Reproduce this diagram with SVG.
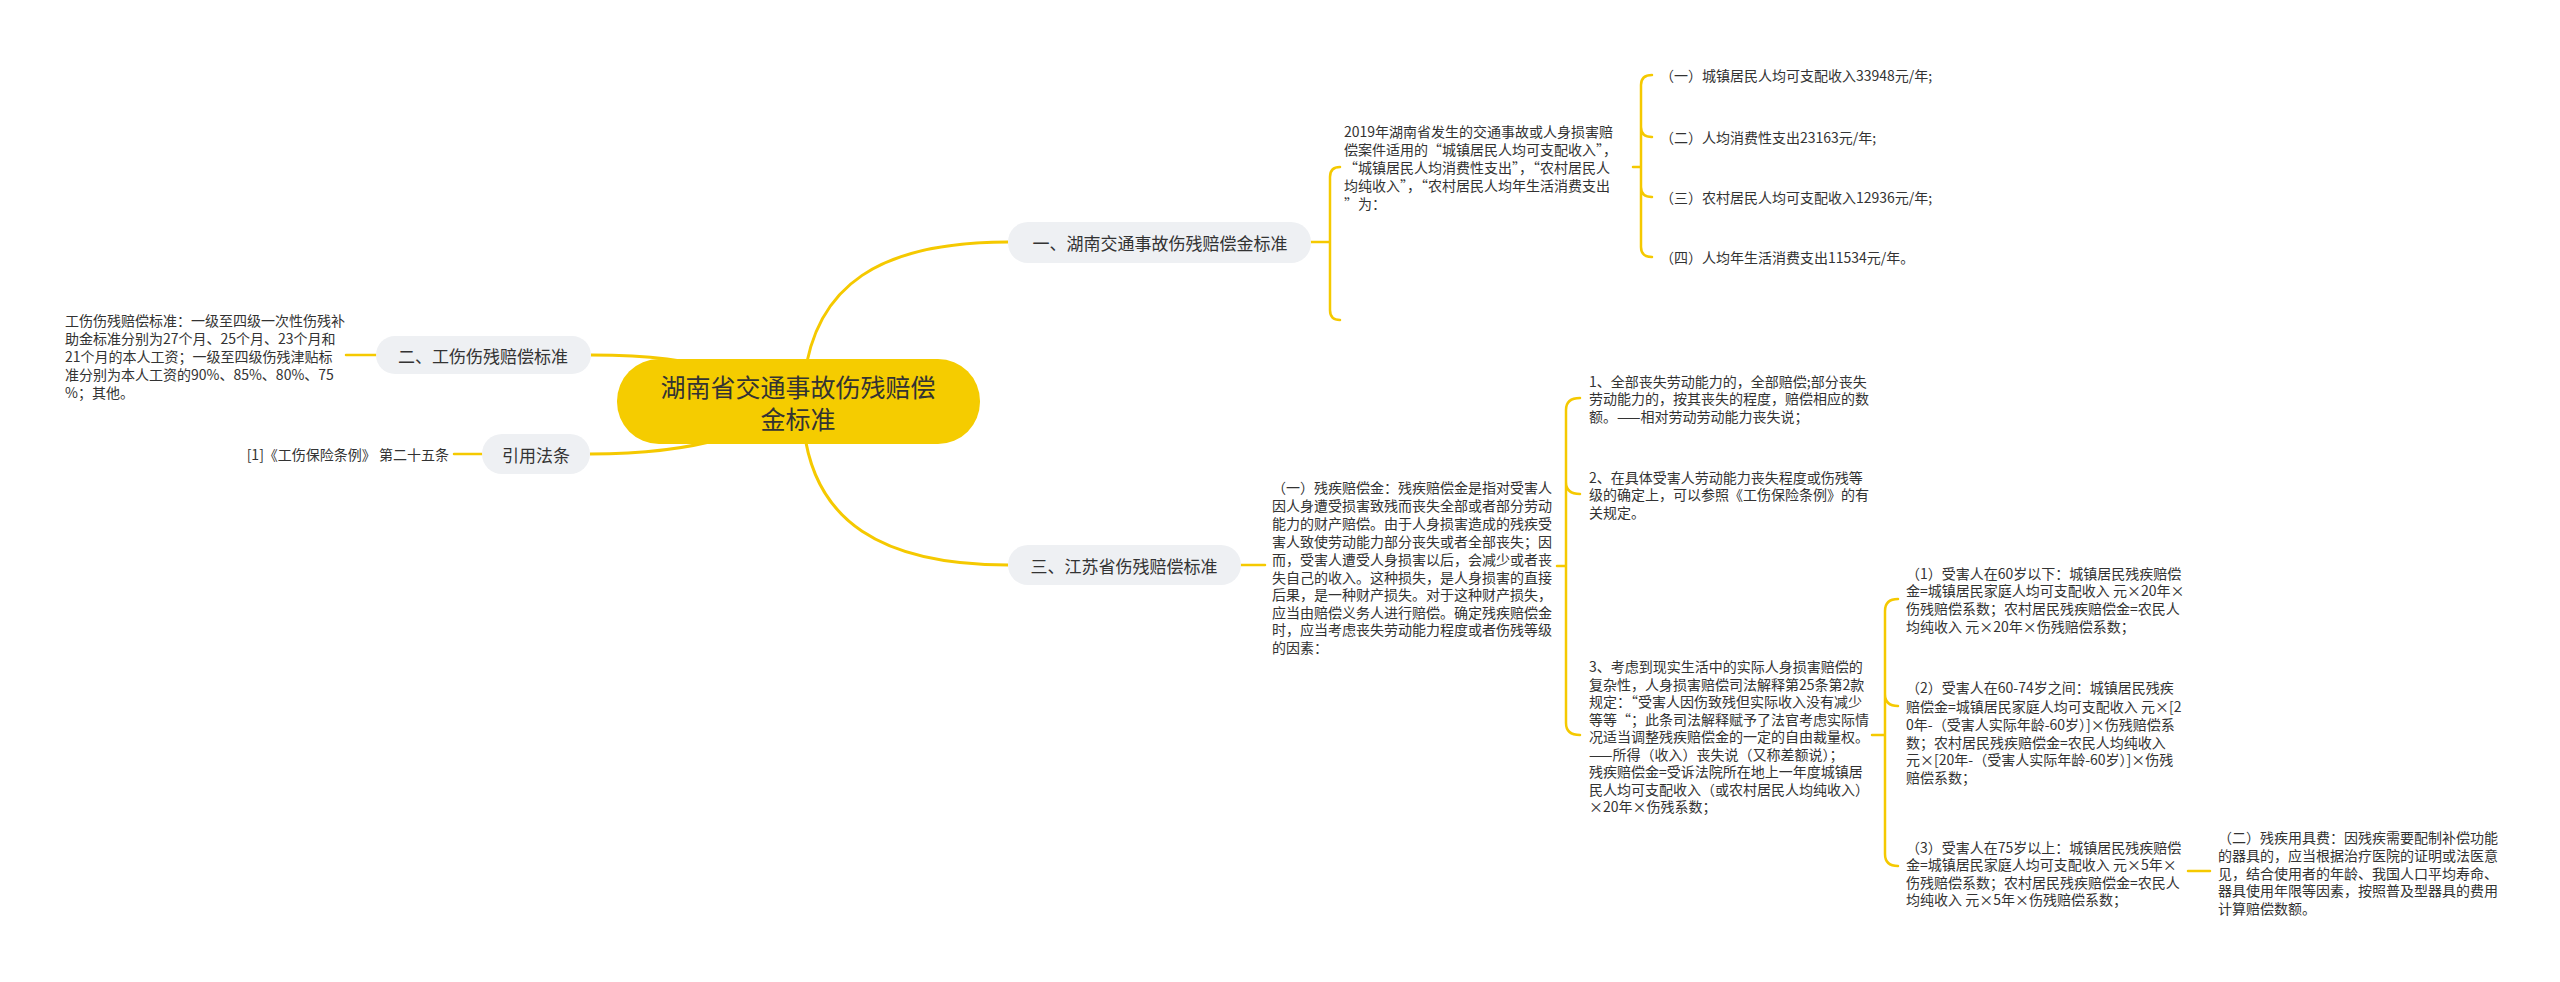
<svg xmlns="http://www.w3.org/2000/svg" width="2560" height="982" viewBox="0 0 2560 982">
<style>
text{font-family:"Noto Sans CJK SC","Noto Sans",sans-serif;fill:#333;dominant-baseline:central}
.t{font-size:14px}
.p{font-size:17px}
.c{font-size:25px}
.ln{fill:none;stroke:#F5C900;stroke-width:2.5;stroke-linecap:round}
.main{fill:none;stroke:#F5C900;stroke-width:3}
.pill{fill:#EEF0F3}
</style>
<rect width="2560" height="982" fill="#fff"/>
<g id="connectors">
<path class="main" d="M804 380 C815 285 880 242 1008 242"/>
<path class="main" d="M804 430 C815 520 880 565 1008 565"/>
<path class="main" d="M591 355 C650 355 690 360 725 372"/>
<path class="main" d="M590 454 C650 454 690 448 725 438"/>
<path class="ln" d="M1311 242 H1330 M1340 167 Q1330 167 1330 177 V310 Q1330 320 1340 320"/>
<path class="ln" d="M1633 167 H1641 M1652 75 Q1641 75 1641 85 V247 Q1641 257 1652 257 M1641 127 Q1641 137 1652 137 M1641 187 Q1641 197 1652 197"/>
<path class="ln" d="M346 355 H376"/>
<path class="ln" d="M454 454 H482"/>
<path class="ln" d="M1241 565 H1265"/>
<path class="ln" d="M1557 566 H1566 M1580 398 Q1566 398 1566 410 V723 Q1566 735 1580 735 M1566 482 Q1566 494 1580 494"/>
<path class="ln" d="M1872 735 H1885 M1898 599 Q1885 599 1885 611 V854 Q1885 866 1898 866 M1885 694 Q1885 706 1898 706"/>
<path class="ln" d="M2188 871 H2210"/>
</g>
<g id="center"><rect x="617" y="359" width="363" height="85" rx="42" fill="#F5CC00"/>
<text class="c" x="798" y="386" text-anchor="middle">湖南省交通事故伤残赔偿</text>
<text class="c" x="798" y="418" text-anchor="middle">金标准</text></g>
<g id="b1"><rect class="pill" x="1008" y="222" width="303" height="41" rx="20"/><text class="p" x="1160" y="242" text-anchor="middle">一、湖南交通事故伤残赔偿金标准</text></g>
<g id="b2"><rect class="pill" x="376" y="336" width="215" height="38" rx="19"/><text class="p" x="483" y="355" text-anchor="middle">二、工伤伤残赔偿标准</text></g>
<g id="b3"><rect class="pill" x="482" y="434" width="108" height="40" rx="20"/><text class="p" x="536" y="454" text-anchor="middle">引用法条</text></g>
<g id="b4"><rect class="pill" x="1008" y="545" width="233" height="40" rx="20"/><text class="p" x="1124" y="565" text-anchor="middle">三、江苏省伤残赔偿标准</text></g>
<g id="n1" class="t"><text x="1344" y="131">2019年湖南省发生的交通事故或人身损害赔</text><text x="1344" y="149">偿案件适用的“城镇居民人均可支配收入”，</text><text x="1344" y="167">“城镇居民人均消费性支出”，“农村居民人</text><text x="1344" y="185">均纯收入”，“农村居民人均年生活消费支出</text><text x="1344" y="203">”为：</text></g>
<g id="n1a" class="t"><text x="1660" y="75">（一）城镇居民人均可支配收入33948元/年;</text></g>
<g id="n1b" class="t"><text x="1660" y="137">（二）人均消费性支出23163元/年;</text></g>
<g id="n1c" class="t"><text x="1660" y="197">（三）农村居民人均可支配收入12936元/年;</text></g>
<g id="n1d" class="t"><text x="1660" y="257">（四）人均年生活消费支出11534元/年。</text></g>
<g id="n2" class="t"><text x="65" y="320">工伤伤残赔偿标准：一级至四级一次性伤残补</text><text x="65" y="338">助金标准分别为27个月、25个月、23个月和</text><text x="65" y="356">21个月的本人工资；一级至四级伤残津贴标</text><text x="65" y="374">准分别为本人工资的90%、85%、80%、75</text><text x="65" y="392">%；其他。</text></g>
<g id="n3" class="t"><text x="449" y="454" text-anchor="end">[1]《工伤保险条例》 第二十五条</text></g>
<g id="n4" class="t"><text x="1272" y="487">（一）残疾赔偿金：残疾赔偿金是指对受害人</text><text x="1272" y="505">因人身遭受损害致残而丧失全部或者部分劳动</text><text x="1272" y="523">能力的财产赔偿。由于人身损害造成的残疾受</text><text x="1272" y="541">害人致使劳动能力部分丧失或者全部丧失；因</text><text x="1272" y="559">而，受害人遭受人身损害以后，会减少或者丧</text><text x="1272" y="577">失自己的收入。这种损失，是人身损害的直接</text><text x="1272" y="594">后果，是一种财产损失。对于这种财产损失，</text><text x="1272" y="612">应当由赔偿义务人进行赔偿。确定残疾赔偿金</text><text x="1272" y="629">时，应当考虑丧失劳动能力程度或者伤残等级</text><text x="1272" y="647">的因素：</text></g>
<g id="n5" class="t"><text x="1589" y="381">1、全部丧失劳动能力的，全部赔偿;部分丧失</text><text x="1589" y="398">劳动能力的，按其丧失的程度，赔偿相应的数</text><text x="1589" y="416">额。——相对劳动劳动能力丧失说；</text></g>
<g id="n6" class="t"><text x="1589" y="477">2、在具体受害人劳动能力丧失程度或伤残等</text><text x="1589" y="494">级的确定上，可以参照《工伤保险条例》的有</text><text x="1589" y="512">关规定。</text></g>
<g id="n7" class="t"><text x="1589" y="666">3、考虑到现实生活中的实际人身损害赔偿的</text><text x="1589" y="684">复杂性，人身损害赔偿司法解释第25条第2款</text><text x="1589" y="701">规定：“受害人因伤致残但实际收入没有减少</text><text x="1589" y="719">等等“；此条司法解释赋予了法官考虑实际情</text><text x="1589" y="736">况适当调整残疾赔偿金的一定的自由裁量权。</text><text x="1589" y="754">——所得（收入）丧失说（又称差额说）；</text><text x="1589" y="771">残疾赔偿金=受诉法院所在地上一年度城镇居</text><text x="1589" y="789">民人均可支配收入（或农村居民人均纯收入）</text><text x="1589" y="806">×20年×伤残系数；</text></g>
<g id="n8" class="t"><text x="1906" y="573">（1）受害人在60岁以下：城镇居民残疾赔偿</text><text x="1906" y="590">金=城镇居民家庭人均可支配收入 元×20年×</text><text x="1906" y="608">伤残赔偿系数；农村居民残疾赔偿金=农民人</text><text x="1906" y="626">均纯收入 元×20年×伤残赔偿系数；</text></g>
<g id="n9" class="t"><text x="1906" y="687">（2）受害人在60-74岁之间：城镇居民残疾</text><text x="1906" y="706">赔偿金=城镇居民家庭人均可支配收入 元×[2</text><text x="1906" y="724">0年-（受害人实际年龄-60岁）]×伤残赔偿系</text><text x="1906" y="742">数；农村居民残疾赔偿金=农民人均纯收入</text><text x="1906" y="759">元×[20年-（受害人实际年龄-60岁）]×伤残</text><text x="1906" y="777">赔偿系数；</text></g>
<g id="n10" class="t"><text x="1906" y="847">（3）受害人在75岁以上：城镇居民残疾赔偿</text><text x="1906" y="864">金=城镇居民家庭人均可支配收入 元×5年×</text><text x="1906" y="882">伤残赔偿系数；农村居民残疾赔偿金=农民人</text><text x="1906" y="899">均纯收入 元×5年×伤残赔偿系数；</text></g>
<g id="n11" class="t"><text x="2218" y="837">（二）残疾用具费：因残疾需要配制补偿功能</text><text x="2218" y="855">的器具的，应当根据治疗医院的证明或法医意</text><text x="2218" y="873">见，结合使用者的年龄、我国人口平均寿命、</text><text x="2218" y="890">器具使用年限等因素，按照普及型器具的费用</text><text x="2218" y="908">计算赔偿数额。</text></g>
</svg>
